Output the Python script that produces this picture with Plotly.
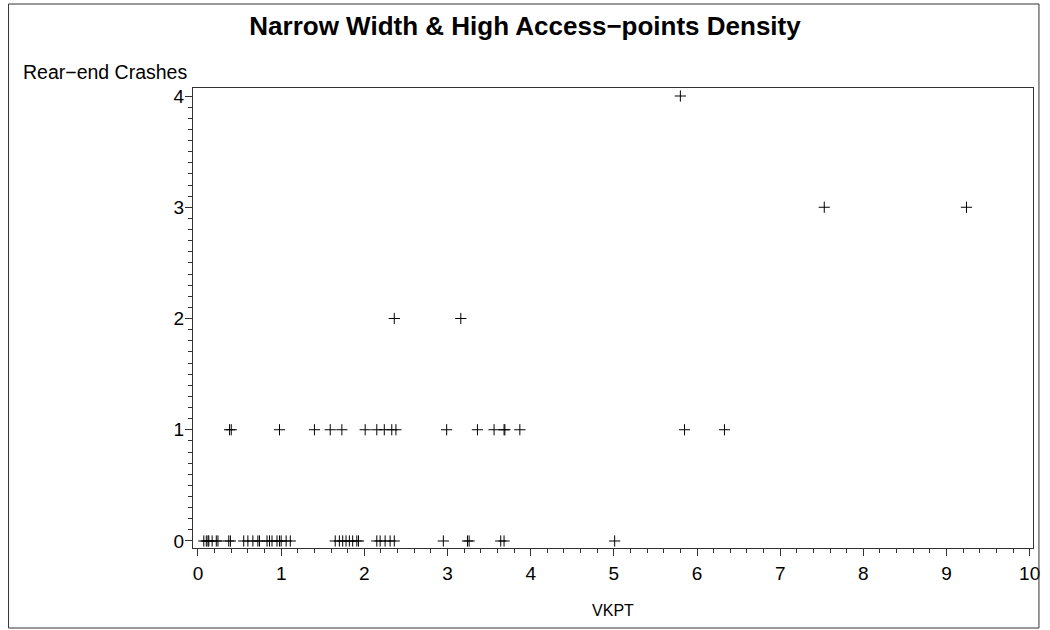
import plotly.graph_objects as go

# VKPT values and rear-end crash counts
vkpt_0 = [0.07, 0.10, 0.12, 0.13, 0.17, 0.22, 0.24, 0.37, 0.39, 0.55, 0.60, 0.66,
          0.72, 0.74, 0.83, 0.86, 0.89, 0.95, 0.98, 1.00, 1.06, 1.11,
          1.65, 1.70, 1.74, 1.78, 1.82, 1.86, 1.91, 1.93,
          2.15, 2.19, 2.25, 2.31, 2.36,
          2.95, 3.24, 3.26, 3.64, 3.68, 5.01]
vkpt_1 = [0.38, 0.40, 0.98, 1.40, 1.59, 1.73, 2.01, 2.15, 2.24, 2.33, 2.38,
          2.99, 3.36, 3.56, 3.68, 3.69, 3.87, 5.85, 6.33]
vkpt_2 = [2.36, 3.16]
vkpt_3 = [7.53, 9.24]
vkpt_4 = [5.80]

xs = vkpt_0 + vkpt_1 + vkpt_2 + vkpt_3 + vkpt_4
ys = ([0] * len(vkpt_0) + [1] * len(vkpt_1) + [2] * len(vkpt_2)
      + [3] * len(vkpt_3) + [4] * len(vkpt_4))

x_ticks = list(range(0, 11))
y_ticks = list(range(0, 5))

FONT = "Liberation Sans, Arial, sans-serif"

fig = go.Figure()
fig.add_trace(go.Scatter(
    x=xs, y=ys, mode="markers",
    marker=dict(symbol="cross-thin", size=8, color="black",
                line=dict(color="black", width=1)),
    showlegend=False,
))

axis_common = dict(
    showline=True, linecolor="#333333", linewidth=1, mirror=True,
    showgrid=False, zeroline=False,
    ticks="outside", ticklen=7, tickcolor="#333333", tickwidth=1,
    tickfont=dict(family=FONT, size=19, color="black"),
)

fig.update_layout(
    width=1050, height=630,
    margin=dict(l=193, r=10, t=88, b=82),
    paper_bgcolor="white", plot_bgcolor="white",
    font=dict(family=FONT, color="black"),
    title=dict(text="<b>Narrow Width & High Access−points Density</b>",
               x=0.5, xref="container", xanchor="center",
               y=1 - 26 / 630, yref="container", yanchor="middle",
               font=dict(family=FONT, size=26, color="black")),
    xaxis=dict(range=[-0.06, 10.04], tickvals=x_ticks,
               ticktext=[str(v) for v in x_ticks],
               ticklabelstandoff=1,
               minor=dict(dtick=0.2, tick0=0, ticks="outside", ticklen=4,
                          tickcolor="#333333", showgrid=False),
               title=dict(text="VKPT", standoff=22,
                          font=dict(family=FONT, size=16, color="black")),
               **axis_common),
    yaxis=dict(range=[-0.063, 4.072], tickvals=y_ticks,
               ticktext=[str(v) for v in y_ticks],
               ticklabelstandoff=-3,
               minor=dict(dtick=0.1, tick0=0, ticks="outside", ticklen=4,
                          tickcolor="#333333", showgrid=False),
               **axis_common),
)

# y-axis label placed horizontally at the top-left, as in the reference
fig.add_annotation(text="Rear−end Crashes", xref="paper", yref="paper",
                   x=(20 - 193) / 847, y=(548 - 72) / 460,
                   xanchor="left", yanchor="middle", showarrow=False,
                   font=dict(family=FONT, size=19.5, color="black"))

# outer frame
fig.add_shape(type="rect", xref="paper", yref="paper",
              x0=(7 - 193) / 847, x1=(1046 - 193) / 847,
              y0=(548 - 628) / 460, y1=(548 - 4) / 460,
              line=dict(color="#333333", width=1), fillcolor="rgba(0,0,0,0)")

fig.write_html("out.html")
